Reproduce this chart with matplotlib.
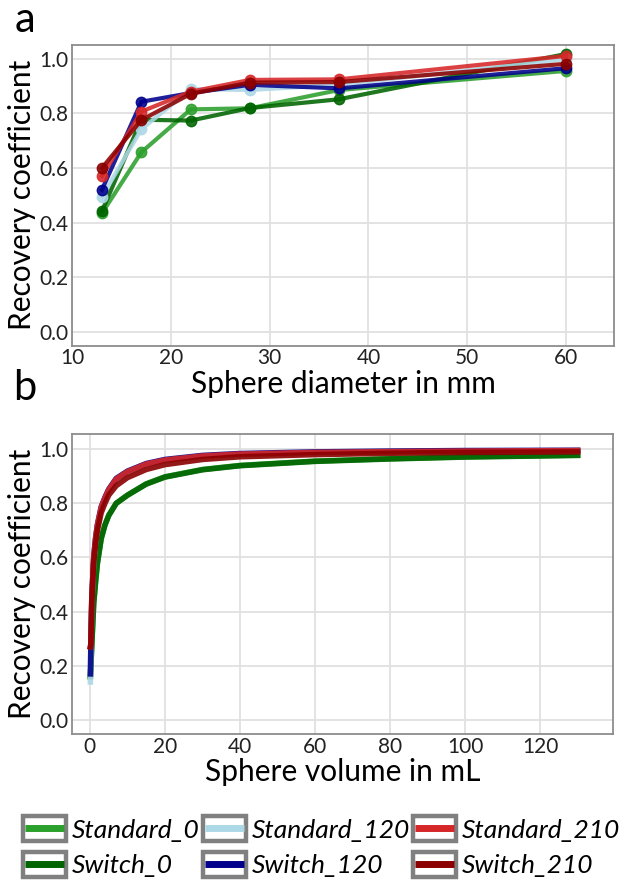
import matplotlib
matplotlib.use("Agg")
import matplotlib.pyplot as plt
from matplotlib.legend_handler import HandlerBase
from matplotlib.patches import Rectangle
from matplotlib.lines import Line2D

plt.rcParams['font.family'] = ['Lato', 'DejaVu Sans']

# ---------------- data ----------------
series_names = ["Standard_0", "Switch_0", "Standard_120", "Switch_120", "Standard_210", "Switch_210"]
series_colors = ["#2ca02c", "#006400", "#add8e6", "#00008b", "#d62728", "#8b0000"]

diameter_mm = [13, 17, 22, 28, 37, 60]
rc_standard_0 = [0.434, 0.658, 0.815, 0.819, 0.886, 0.956]
rc_switch_0 = [0.442, 0.777, 0.774, 0.820, 0.852, 1.018]
rc_standard_120 = [0.495, 0.742, 0.889, 0.886, 0.905, 0.999]
rc_switch_120 = [0.520, 0.843, 0.875, 0.905, 0.892, 0.966]
rc_standard_210 = [0.570, 0.807, 0.880, 0.923, 0.925, 1.011]
rc_switch_210 = [0.600, 0.776, 0.872, 0.913, 0.915, 0.982]

volume_ml = [0.12, 0.25, 0.5, 1, 1.5, 2, 3, 4, 5, 7, 10, 15, 20, 30, 40, 60, 80, 100, 130]
fit_standard_0 = [0.16, 0.20, 0.28, 0.43, 0.51, 0.58, 0.67, 0.72, 0.755, 0.80, 0.83, 0.872, 0.898, 0.925, 0.940, 0.956, 0.965, 0.972, 0.978]
fit_switch_0 = [0.16, 0.20, 0.28, 0.43, 0.51, 0.58, 0.67, 0.72, 0.755, 0.80, 0.83, 0.871, 0.897, 0.924, 0.939, 0.955, 0.964, 0.971, 0.977]
fit_standard_120 = [0.14, 0.26, 0.43, 0.58, 0.655, 0.71, 0.775, 0.81, 0.84, 0.88, 0.91, 0.940, 0.956, 0.972, 0.980, 0.987, 0.990, 0.992, 0.994]
fit_switch_120 = [0.17, 0.28, 0.45, 0.60, 0.672, 0.722, 0.787, 0.822, 0.852, 0.892, 0.919, 0.947, 0.962, 0.977, 0.984, 0.990, 0.993, 0.995, 0.996]
fit_standard_210 = [0.27, 0.28, 0.45, 0.60, 0.670, 0.720, 0.785, 0.820, 0.850, 0.890, 0.917, 0.945, 0.960, 0.975, 0.982, 0.988, 0.991, 0.993, 0.995]
fit_switch_210 = [0.27, 0.28, 0.44, 0.58, 0.650, 0.700, 0.765, 0.800, 0.830, 0.865, 0.895, 0.925, 0.943, 0.962, 0.972, 0.980, 0.985, 0.988, 0.990]

panel_a = [rc_standard_0, rc_switch_0, rc_standard_120, rc_switch_120, rc_standard_210, rc_switch_210]
panel_b = [fit_standard_0, fit_switch_0, fit_standard_120, fit_switch_120, fit_standard_210, fit_switch_210]

yticks = [0.0, 0.2, 0.4, 0.6, 0.8, 1.0]
xticks_a = [10, 20, 30, 40, 50, 60]
xticks_b = [0, 20, 40, 60, 80, 100, 120]

# ---------------- figure ----------------
fig = plt.figure(figsize=(6.2, 8.84), dpi=100)
ax_a = fig.add_axes([72.3 / 620, 1 - 345.6 / 884, (614.3 - 72.3) / 620, (345.6 - 45) / 884])
ax_b = fig.add_axes([72.3 / 620, 1 - 734 / 884, (613.3 - 72.3) / 620, (734 - 434.3) / 884])

grid_color = "#e0e0e0"
spine_color = "#8c8c8c"

def style(ax):
    ax.set_facecolor("white")
    ax.grid(True, color=grid_color, linewidth=1.3)
    ax.set_axisbelow(True)
    for s in ax.spines.values():
        s.set_color(spine_color)
        s.set_linewidth(1.3)
    ax.tick_params(length=0, labelsize=15, colors="#222222")
    ax.tick_params(axis="x", pad=2)
    ax.tick_params(axis="y", pad=3)
    ax.set_yticks(yticks)
    ax.set_yticklabels([f"{v:.1f}" for v in yticks])

for vals, col in zip(panel_a, series_colors):
    ax_a.plot(diameter_mm, vals, color=col, lw=3, marker="o", ms=7.5, alpha=0.88,
              solid_joinstyle="round")
style(ax_a)
ax_a.set_xlim(10, 64.9)
ax_a.set_ylim(-0.051, 1.051)
ax_a.set_xticks(xticks_a)
ax_a.set_xlabel("Sphere diameter in mm", fontsize=21.5, labelpad=1)
ax_a.set_ylabel("Recovery coefficient", fontsize=21.5, labelpad=2)

for vals, col in zip(panel_b, series_colors):
    ax_b.plot(volume_ml, vals, color=col, lw=4, alpha=0.9, solid_joinstyle="round")
style(ax_b)
ax_b.set_xlim(-4.7, 139.5)
ax_b.set_ylim(-0.052, 1.055)
ax_b.set_xticks(xticks_b)
ax_b.set_xlabel("Sphere volume in mL", fontsize=21.5, labelpad=1)
ax_b.set_ylabel("Recovery coefficient", fontsize=21.5, labelpad=2)

fig.text(25 / 620, 1 - 20 / 884, "a", fontsize=30, ha="center", va="center")
fig.text(25 / 620, 1 - 388 / 884, "b", fontsize=30, ha="center", va="center")


class BoxLineHandler(HandlerBase):
    def create_artists(self, legend, orig_handle, xdescent, ydescent, width, height, fontsize, trans):
        box_h = 18.0
        cy = -ydescent + height / 2
        rect = Rectangle((-xdescent, cy - box_h / 2), width, box_h,
                         facecolor="white", edgecolor="#808080", linewidth=3.2, transform=trans)
        line = Line2D([-xdescent + 1.6, -xdescent + width - 1.6], [cy, cy],
                      color=orig_handle.get_color(), linewidth=5, solid_capstyle="butt",
                      transform=trans)
        return [rect, line]


handles = [Line2D([], [], color=c) for c in series_colors]
leg = fig.legend(handles, series_names, ncol=3, loc="center left",
                 bbox_to_anchor=(23 / 620, 1 - 848 / 884), frameon=False,
                 prop={"size": 19, "style": "italic"},
                 handler_map={Line2D: BoxLineHandler()},
                 handlelength=1.63, handleheight=0.7, handletextpad=0.22,
                 columnspacing=0.12, labelspacing=0.48, borderpad=0, borderaxespad=0)

fig.savefig("out.png", dpi=100, facecolor="white")
